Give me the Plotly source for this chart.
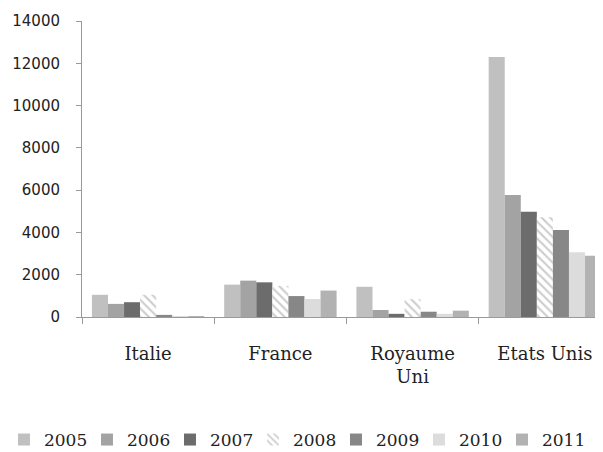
import plotly.graph_objects as go

categories = ["Italie", "France", "Royaume<br>Uni", "Etats Unis"]
years = ["2005", "2006", "2007", "2008", "2009", "2010", "2011"]
v2005 = [1050, 1530, 1430, 12300]
v2006 = [620, 1720, 330, 5770]
v2007 = [700, 1640, 150, 4980]
v2008 = [1050, 1470, 840, 4720]
v2009 = [100, 990, 250, 4110]
v2010 = [30, 850, 150, 3060]
v2011 = [30, 1250, 300, 2900]
series = [v2005, v2006, v2007, v2008, v2009, v2010, v2011]
colors = ["#c0c0c0", "#a3a3a3", "#6c6c6c", "#ffffff", "#878787", "#dcdcdc", "#b2b2b2"]

fig = go.Figure()
for y, vals, c in zip(years, series, colors):
    if y == "2008":
        marker = dict(color="#ffffff",
                      pattern=dict(shape="\\", fgcolor="#9a9a9a", bgcolor="#ffffff", size=6, solidity=0.35),
                      line=dict(width=0))
    else:
        marker = dict(color=c, line=dict(width=0))
    fig.add_trace(go.Bar(name=y, x=categories, y=vals, marker=marker))

fig.update_layout(
    width=603, height=452,
    margin=dict(l=74, r=0, t=13, b=143, autoexpand=False),
    paper_bgcolor="white", plot_bgcolor="white",
    barmode="group", bargap=0.15, bargroupgap=0,
    showlegend=True,
    legend=dict(orientation="h", x=-0.1475, xanchor="left",
                y=-0.4155, yanchor="middle",
                font=dict(family="DejaVu Serif", size=17, color="#222"),
                entrywidth=38, entrywidthmode="pixels", itemwidth=30, tracegroupgap=0),
    xaxis=dict(range=[-0.5, 3.5], showline=True, linecolor="#9a9a9a", linewidth=1, automargin=False,
               ticks="outside", tickson="boundaries", ticklen=6, tickcolor="#9a9a9a",
               tickfont=dict(family="DejaVu Serif", size=18, color="#222"),
               ticklabelstandoff=20, showgrid=False),
    yaxis=dict(range=[0, 14000], dtick=2000, tickformat="d", showline=True, linecolor="#9a9a9a", linewidth=1,
               ticks="outside", ticklen=5, tickcolor="#9a9a9a", showgrid=False, zeroline=False,
               automargin=False,
               tickfont=dict(family="DejaVu Sans", size=15, color="#222"),
               ticklabelstandoff=13),
    font=dict(family="DejaVu Sans"),
)
fig.write_html("out.html")
